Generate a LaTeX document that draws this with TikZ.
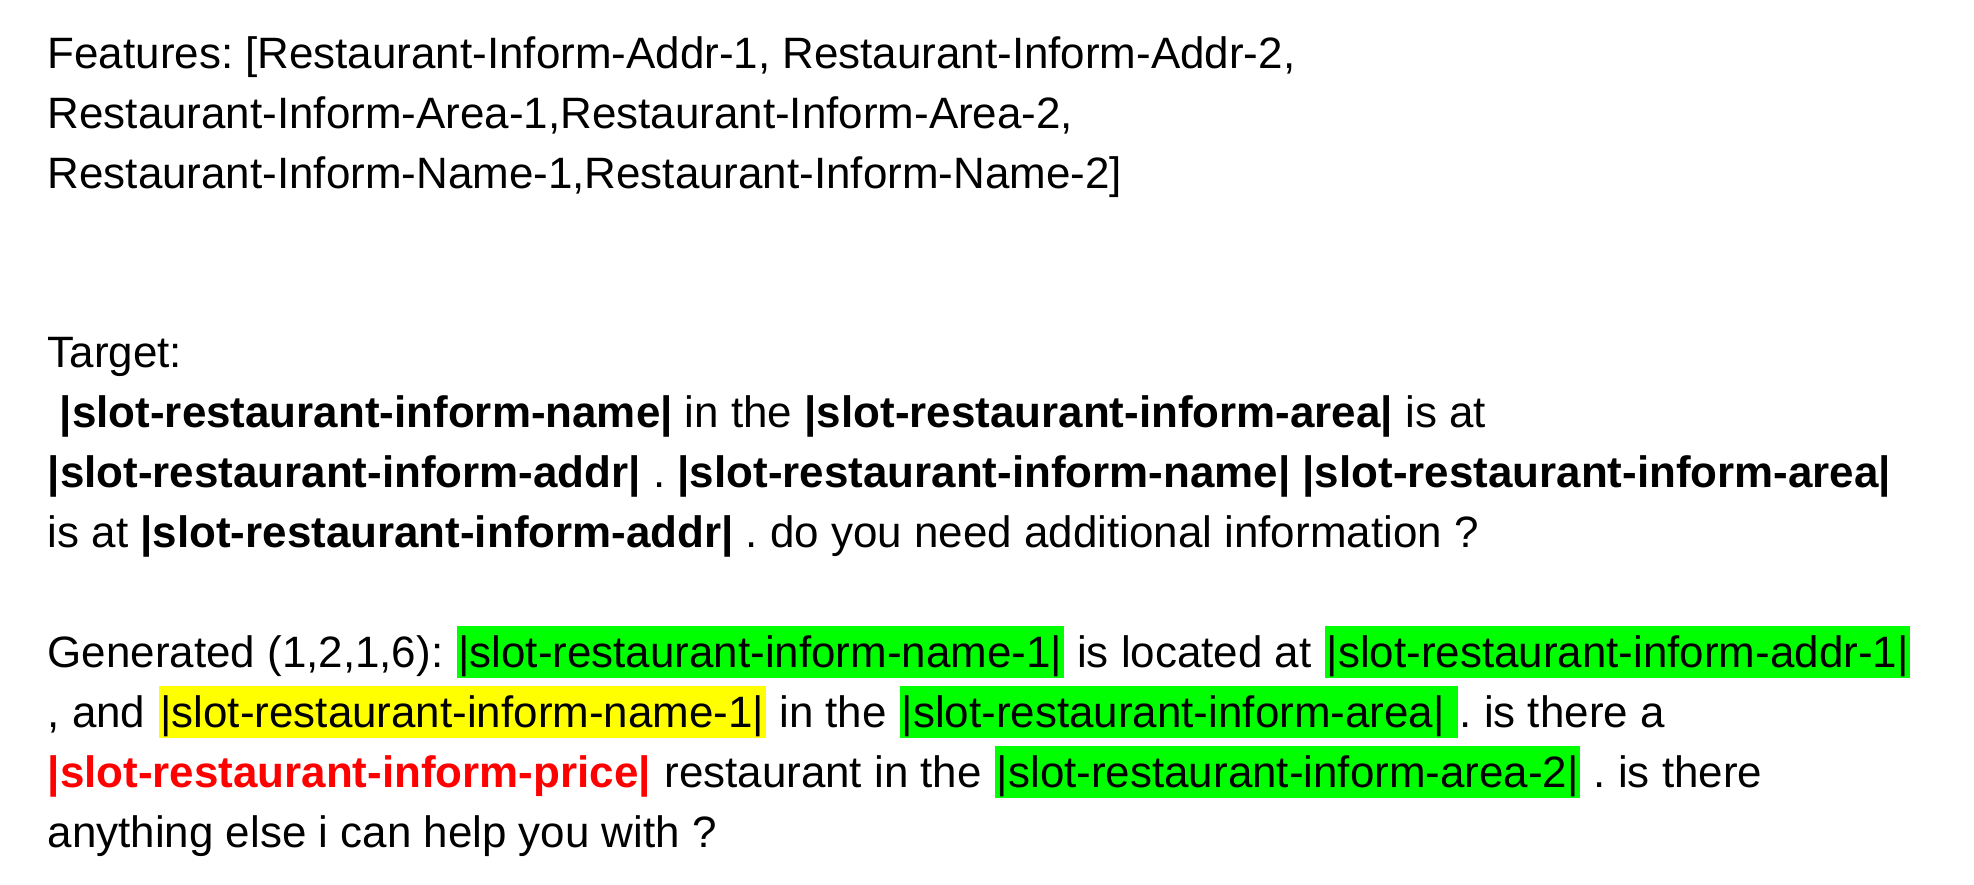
\documentclass[tikz,border=0pt]{standalone}
\usepackage{fontspec}
\setmainfont{Liberation Sans}
\usetikzlibrary{positioning}
\definecolor{slotgreen}{RGB}{0, 255, 0}
\definecolor{slotyellow}{RGB}{255, 255, 0}
\definecolor{slotred}{RGB}{255, 0, 0}
\frenchspacing

\begin{document}
\begin{tikzpicture}[x=0.1mm, y=-0.1mm, node distance=3.47pt,
    txt/.style={anchor=base west, inner sep=0pt, font=\fontsize{12.5pt}{17pt}\selectfont},
    hilite/.style={txt, fill=#1, inner xsep=0.4pt, text height=4.1mm, text depth=1.1mm}]
    \path[use as bounding box, fill=white] (0,0) rectangle (1974,884);

    \node[txt] (feat1) at (47,68) {Features: [Restaurant-Inform-Addr-1, Restaurant-Inform-Addr-2,};
    \node[txt] (feat2) at (47,128) {Restaurant-Inform-Area-1,Restaurant-Inform-Area-2,};
    \node[txt] (feat3) at (47,188) {Restaurant-Inform-Name-1,Restaurant-Inform-Name-2]};

    \node[txt] (target) at (47,367) {Target:};
    \node[txt] (tgt1) at (47,427) {\ \textbf{|slot-restaurant-inform-name|} in the \textbf{|slot-restaurant-inform-area|} is at};
    \node[txt] (tgt2) at (47,487) {\textbf{|slot-restaurant-inform-addr|} . \textbf{|slot-restaurant-inform-name|} \textbf{|slot-restaurant-inform-area|}};
    \node[txt] (tgt3) at (47,547) {is at \textbf{|slot-restaurant-inform-addr|} . do you need additional information ?};

    \node[txt] (gen) at (47,667) {Generated (1,2,1,6):};
    \node[hilite=slotgreen, base right=of gen] (genname) {|slot-restaurant-inform-name-1|};
    \node[txt, base right=of genname] (located) {is located at};
    \node[hilite=slotgreen, base right=of located] (genaddr) {|slot-restaurant-inform-addr-1|};

    \node[txt] (gand) at (47,727) {, and};
    \node[hilite=slotyellow, base right=of gand] (dupname) {|slot-restaurant-inform-name-1|};
    \node[txt, base right=of dupname] (inthe) {in the};
    \node[hilite=slotgreen, base right=of inthe] (genarea) {|slot-restaurant-inform-area|\kern3.47pt};
    \node[txt, base right=0pt of genarea] (isthere) {. is there a};

    \node[txt, text=slotred] (price) at (47,787) {\textbf{|slot-restaurant-inform-price|}};
    \node[txt, base right=of price] (restin) {restaurant in the};
    \node[hilite=slotgreen, base right=of restin] (genarea2) {|slot-restaurant-inform-area-2|};
    \node[txt, base right=of genarea2] (isthere2) {. is there};

    \node[txt] (anything) at (47,847) {anything else i can help you with ?};
\end{tikzpicture}
\end{document}
